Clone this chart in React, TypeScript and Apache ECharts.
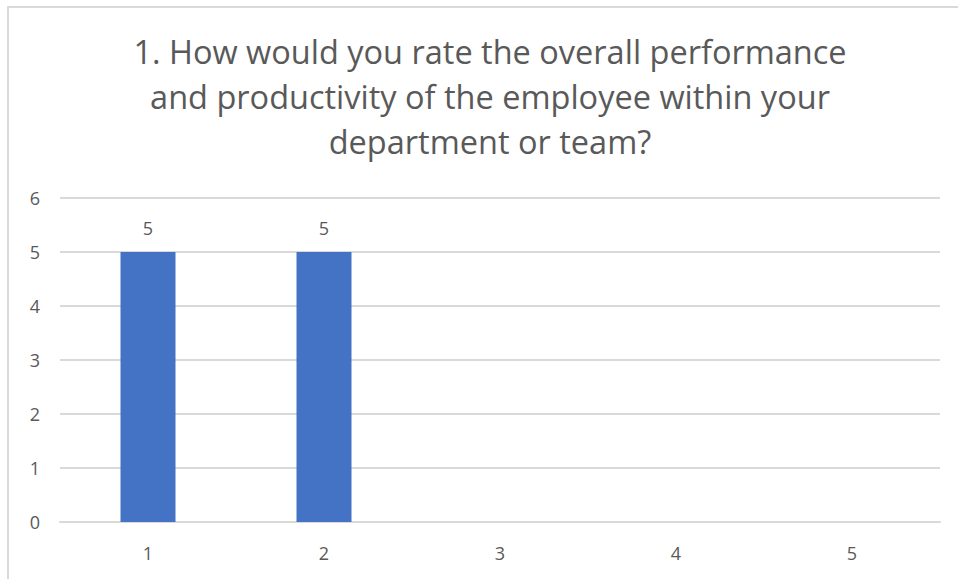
import React, { useEffect, useRef } from "react";
import * as echarts from "echarts";

const categories = ["1", "2", "3", "4", "5"];
const counts = [5, 5, 0, 0, 0];
const titleLines = [
  "1. How would you rate the overall performance",
  "and productivity of the employee within your",
  "department or team?",
];

export default function App() {
  const ref = useRef<HTMLDivElement>(null);
  useEffect(() => {
    document.body.style.margin = "0";
    const chart = echarts.init(ref.current!, null, { renderer: "svg" });
    chart.setOption({
      animation: false,
      backgroundColor: "#ffffff",
      graphic: [
        {
          type: "rect",
          shape: { x: 8, y: 7, width: 1000, height: 700 },
          style: { fill: "none", stroke: "#d9d9d9", lineWidth: 2 },
          silent: true,
        },
      ],
      title: {
        text: titleLines.join("\n"),
        left: 485,
        textAlign: "center",
        top: 24,
        textStyle: {
          fontFamily: "Open Sans",
          fontSize: 32.5,
          fontWeight: "normal",
          color: "#595959",
          lineHeight: 45,
        },
      },
      grid: { left: 60, right: 18, top: 198, bottom: 57 },
      xAxis: {
        type: "category",
        data: categories,
        axisLine: { lineStyle: { color: "#d9d9d9", width: 2 } },
        axisTick: { show: false },
        axisLabel: {
          color: "#595959",
          fontSize: 18,
          fontFamily: "Open Sans",
          margin: 22,
        },
      },
      yAxis: {
        type: "value",
        min: 0,
        max: 6,
        interval: 1,
        axisLine: { show: false },
        axisTick: { show: false },
        splitLine: { lineStyle: { color: "#d9d9d9", width: 2 } },
        axisLabel: {
          color: "#595959",
          fontSize: 18,
          fontFamily: "Open Sans",
          margin: 20,
        },
      },
      series: [
        {
          type: "bar",
          data: counts.map((v) => (v === 0 ? null : v)),
          barWidth: 55,
          itemStyle: { color: "#4472C4" },
          label: {
            show: true,
            position: "top",
            distance: 15,
            color: "#595959",
            fontSize: 18,
            fontFamily: "Open Sans",
          },
        },
      ],
    });
    return () => chart.dispose();
  }, []);
  return (
    <div
      ref={ref}
      style={{ position: "absolute", left: 0, top: 0, width: 958, height: 579 }}
    />
  );
}
